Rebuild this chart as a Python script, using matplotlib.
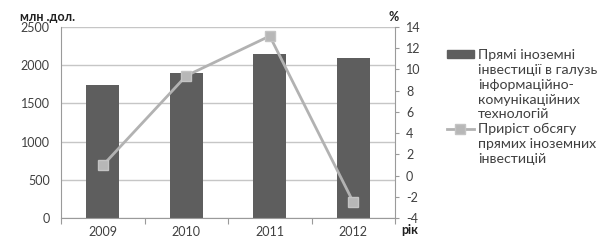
import matplotlib
matplotlib.use("Agg")
import matplotlib.pyplot as plt
from matplotlib.patches import Patch
from matplotlib.lines import Line2D
import numpy as np

years = ["2009", "2010", "2011", "2012"]
ict_investment = [1740, 1900, 2150, 2098]
growth_pct = [0.95, 9.4, 13.15, -2.5]
left_ticks = [0, 500, 1000, 1500, 2000, 2500]
right_ticks = [-4, -2, 0, 2, 4, 6, 8, 10, 12, 14]
bar_label = ["Прямі іноземні", "інвестиції в галузь", "інформаційно-", "комунікаційних", "технологій"]
line_label = ["Приріст обсягу", "прямих іноземних", "інвестицій"]

plt.rcParams['font.family'] = ['Lato', 'DejaVu Sans']
FS = 9
LFS = 10.2
BAR_C = "#5e5e5e"
LINE_C = "#b2b2b2"
GRID_C = "#c6c6c6"
AX_C = "#9a9a9a"
TXT_C = "#404040"

fig = plt.figure(figsize=(6.09, 2.47), dpi=100)
ax = fig.add_axes([61/609, 1-218/247, (395-61)/609, (218-27)/247])
x = np.arange(len(years))
ax.bar(x, ict_investment, width=0.4, color=BAR_C, zorder=2)
ax.set_xlim(-0.5, len(years)-0.5)
ax.set_ylim(0, 2500)
ax.set_yticks(left_ticks)
ax.set_yticklabels([str(t) for t in left_ticks], fontsize=FS, color=TXT_C)
ax.tick_params(axis='y', length=0, pad=8)
ax.set_xticks(x)
ax.set_xticklabels(years, fontsize=FS, color=TXT_C)
ax.set_xticks(np.arange(-0.5, len(years)), minor=True)
ax.tick_params(axis='x', which='major', length=0, pad=6)
ax.tick_params(axis='x', which='minor', length=4, color=AX_C, width=0.8)
ax.grid(axis='y', color=GRID_C, linewidth=1.0, zorder=0)
ax.set_axisbelow(True)
for s in ['top', 'right']:
    ax.spines[s].set_visible(False)
ax.spines['left'].set_color(AX_C)
ax.spines['bottom'].set_color(AX_C)
ax.spines['left'].set_linewidth(0.8)
ax.spines['bottom'].set_linewidth(0.8)

ax2 = ax.twinx()
ax2.plot(x, growth_pct, color=LINE_C, linewidth=2.0, marker='s', markersize=7,
         markerfacecolor="#b7b7b7", markeredgecolor="#c4c4c4", zorder=3)
ax2.set_ylim(-4, 14)
ax2.set_yticks(right_ticks)
ax2.set_yticklabels([str(t) for t in right_ticks], fontsize=FS, color=TXT_C)
ax2.tick_params(axis='y', length=3, color=AX_C, width=0.8, pad=5)
for s in ['top', 'left', 'bottom']:
    ax2.spines[s].set_visible(False)
ax2.spines['right'].set_color(AX_C)
ax2.spines['right'].set_linewidth(0.8)

fig.text(48/609, 1-17/247, "млн .дол.", fontsize=FS, fontweight='bold', color="#202020",
         ha='center', va='center')
fig.text(394/609, 1-17/247, "%", fontsize=FS, fontweight='bold', color="#202020",
         ha='center', va='center')
fig.text(410/609, 1-230/247, "рік", fontsize=FS, fontweight='bold', color="#202020",
         ha='center', va='center')

blank = Patch(alpha=0)
handles = [Patch(color=BAR_C)] + [blank]*(len(bar_label)-1) + \
          [Line2D([], [], color=LINE_C, linewidth=2.0, marker='s', markersize=7,
                  markerfacecolor="#b7b7b7", markeredgecolor="#c4c4c4")] + [blank]*(len(line_label)-1)
labels = bar_label + line_label
leg = fig.legend(handles, labels, loc='upper left', bbox_to_anchor=(447/609, 1-49/247),
                 frameon=False, fontsize=LFS, labelspacing=0.2, handlelength=1.9,
                 handleheight=0.55, handletextpad=0.3, borderpad=0, borderaxespad=0)
for t in leg.get_texts():
    t.set_color(TXT_C)

fig.savefig("out.png", dpi=100)
